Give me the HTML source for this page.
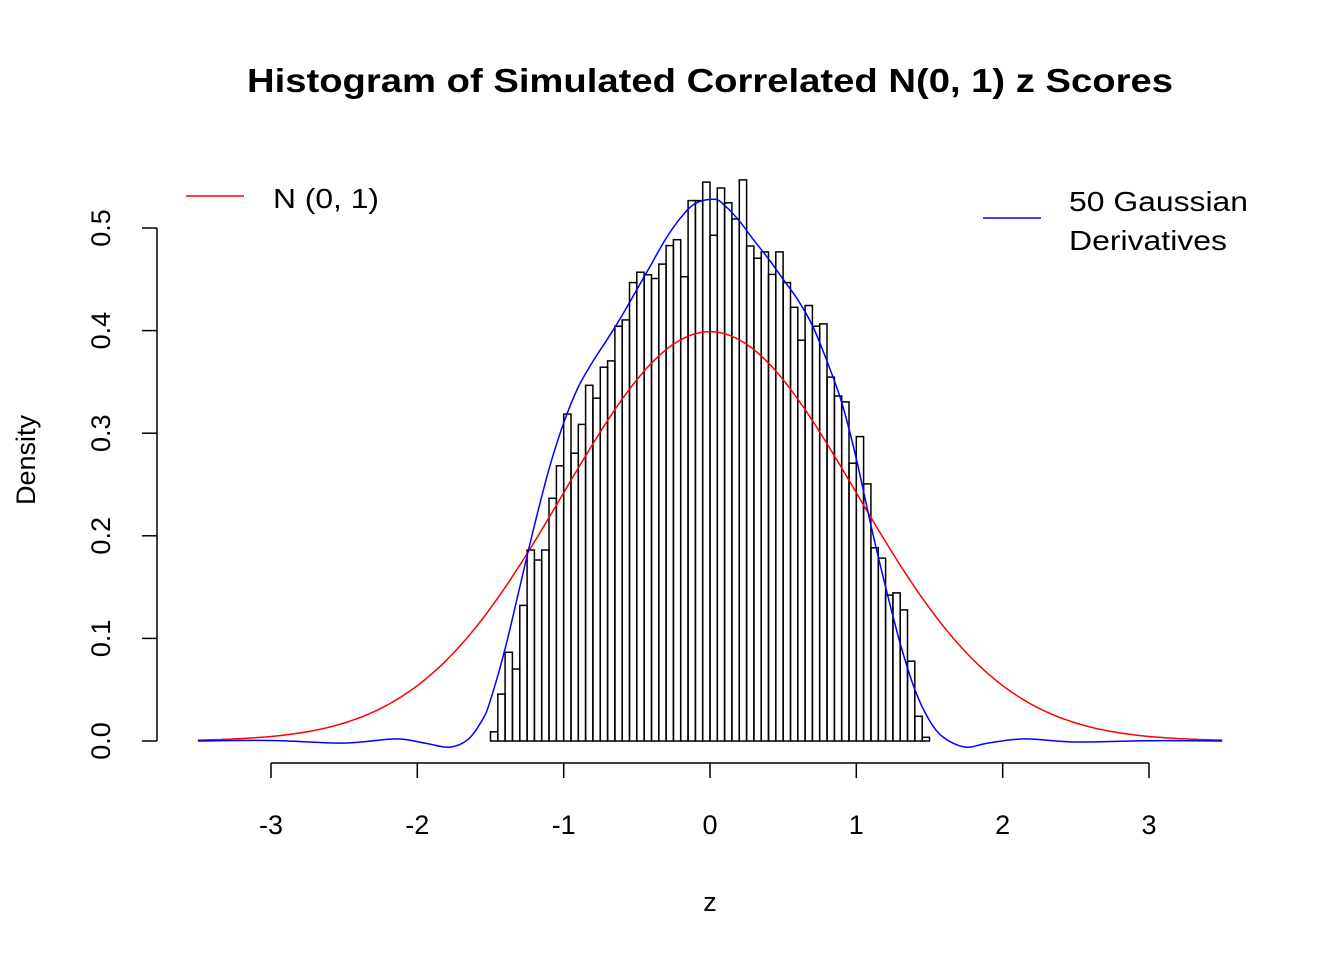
<!DOCTYPE html>
<html><head><meta charset="utf-8"><style>
body{margin:0;background:#fff}
svg{display:block;font-family:"Liberation Sans",Arial,sans-serif}
</style></head><body>
<svg id="s" width="1344" height="960" viewBox="0 0 1344 960">
<text x="710" y="92" font-size="33" font-weight="bold" text-anchor="middle" textLength="926" lengthAdjust="spacingAndGlyphs">Histogram of Simulated Correlated N(0, 1) z Scores</text>
<g stroke="#000" stroke-width="1.5" fill="none">
<line x1="157" y1="228" x2="157" y2="741"/>
<line x1="142" y1="741" x2="157" y2="741"/><line x1="142" y1="638.4" x2="157" y2="638.4"/>
<line x1="142" y1="535.8" x2="157" y2="535.8"/><line x1="142" y1="433.2" x2="157" y2="433.2"/>
<line x1="142" y1="330.6" x2="157" y2="330.6"/><line x1="142" y1="228" x2="157" y2="228"/>
<line x1="271" y1="763" x2="1149" y2="763"/>
<line x1="271" y1="763" x2="271" y2="778"/><line x1="417.3" y1="763" x2="417.3" y2="778"/>
<line x1="563.7" y1="763" x2="563.7" y2="778"/><line x1="710" y1="763" x2="710" y2="778"/>
<line x1="856.3" y1="763" x2="856.3" y2="778"/><line x1="1002.7" y1="763" x2="1002.7" y2="778"/>
<line x1="1149" y1="763" x2="1149" y2="778"/>
</g>
<g font-size="27" text-anchor="middle">
<text x="271" y="834">-3</text><text x="417.3" y="834">-2</text><text x="563.7" y="834">-1</text>
<text x="710" y="834">0</text><text x="856.3" y="834">1</text><text x="1002.7" y="834">2</text><text x="1149" y="834">3</text>
<text x="710" y="911">z</text>
<text transform="translate(110,741) rotate(-90)">0.0</text>
<text transform="translate(110,638.4) rotate(-90)">0.1</text>
<text transform="translate(110,535.8) rotate(-90)">0.2</text>
<text transform="translate(110,433.2) rotate(-90)">0.3</text>
<text transform="translate(110,330.6) rotate(-90)">0.4</text>
<text transform="translate(110,228) rotate(-90)">0.5</text>
<text transform="translate(35,460) rotate(-90)">Density</text>
</g>
<g id="bars" stroke="#000" stroke-width="1.5" fill="none"></g>
<path id="red" stroke="#f00" stroke-width="1.5" fill="none"/>
<path id="blue" stroke="#00f" stroke-width="1.5" fill="none"/>
<line x1="186" y1="196" x2="244" y2="196" stroke="#f00" stroke-width="1.5"/>
<text x="273" y="208" font-size="28" textLength="106" lengthAdjust="spacingAndGlyphs">N (0, 1)</text>
<line x1="983" y1="218" x2="1041" y2="218" stroke="#00f" stroke-width="1.5"/>
<text x="1069" y="211" font-size="28" textLength="179" lengthAdjust="spacingAndGlyphs">50 Gaussian</text>
<text x="1069" y="250" font-size="28" textLength="158" lengthAdjust="spacingAndGlyphs">Derivatives</text>
</svg>
<script>
var X=z=>710+z*146.33, Y=d=>741-d*1026;
var zy=[1520,1418,1305,1350,1178,1028,1055,1028,888,800,660,766,688,582,617,533,516,422,405,304,276,283,293,254,204,188,288,82,82,32,
176,48,88,132,26,205,238,221,282,221,304,371,460,366,422,416,560,611,627,793,721,849,1022,1050,1150,1144,1190,1329,1478,1535];
var b='';
zy.forEach((v,i)=>{var x0=X(-1.5+i*0.05),x1=X(-1.5+(i+1)*0.05);var y=741-(1545-v)*0.3694;
b+='<rect x="'+x0.toFixed(1)+'" y="'+y.toFixed(1)+'" width="'+(x1-x0).toFixed(1)+'" height="'+(741-y).toFixed(1)+'"/>';});
document.getElementById('bars').innerHTML=b;
var p='';for(var z=-3.5;z<=3.5001;z+=0.02){var d=Math.exp(-z*z/2)/Math.sqrt(2*Math.PI);p+=(p?'L':'M')+X(z).toFixed(1)+' '+Y(d).toFixed(1);}
document.getElementById('red').setAttribute('d',p);
var pts=[[-3.5,0],[-3,0.0005],[-2.5,-0.002],[-2.15,0.002],[-1.95,-0.002],[-1.78,-0.006],[-1.65,0.002],[-1.55,0.022],[-1.5,0.04],[-1.4,0.09],[-1.3,0.15],[-1.2,0.21],[-1.1,0.265],[-1.0,0.31],[-0.9,0.345],[-0.8,0.37],[-0.7,0.392],[-0.6,0.415],[-0.5,0.44],[-0.4,0.465],[-0.3,0.49],[-0.2,0.51],[-0.1,0.524],[0.03,0.528],[0.1,0.522],[0.2,0.507],[0.3,0.488],[0.4,0.47],[0.5,0.45],[0.6,0.43],[0.7,0.405],[0.8,0.37],[0.9,0.33],[1.0,0.275],[1.1,0.21],[1.2,0.15],[1.3,0.095],[1.4,0.05],[1.5,0.02],[1.6,0.003],[1.75,-0.006],[1.9,-0.002],[2.15,0.002],[2.5,-0.001],[3,0.0003],[3.5,0]];
var q='M'+X(pts[0][0])+' '+Y(pts[0][1]);
for(var i=0;i<pts.length-1;i++){var p0=pts[Math.max(i-1,0)],p1=pts[i],p2=pts[i+1],p3=pts[Math.min(i+2,pts.length-1)];
var a=[X(p1[0])+(X(p2[0])-X(p0[0]))/6,Y(p1[1])+(Y(p2[1])-Y(p0[1]))/6],c=[X(p2[0])-(X(p3[0])-X(p1[0]))/6,Y(p2[1])-(Y(p3[1])-Y(p1[1]))/6];
q+='C'+a[0].toFixed(1)+' '+a[1].toFixed(1)+' '+c[0].toFixed(1)+' '+c[1].toFixed(1)+' '+X(p2[0]).toFixed(1)+' '+Y(p2[1]).toFixed(1);}
document.getElementById('blue').setAttribute('d',q);
</script>
</body></html>
